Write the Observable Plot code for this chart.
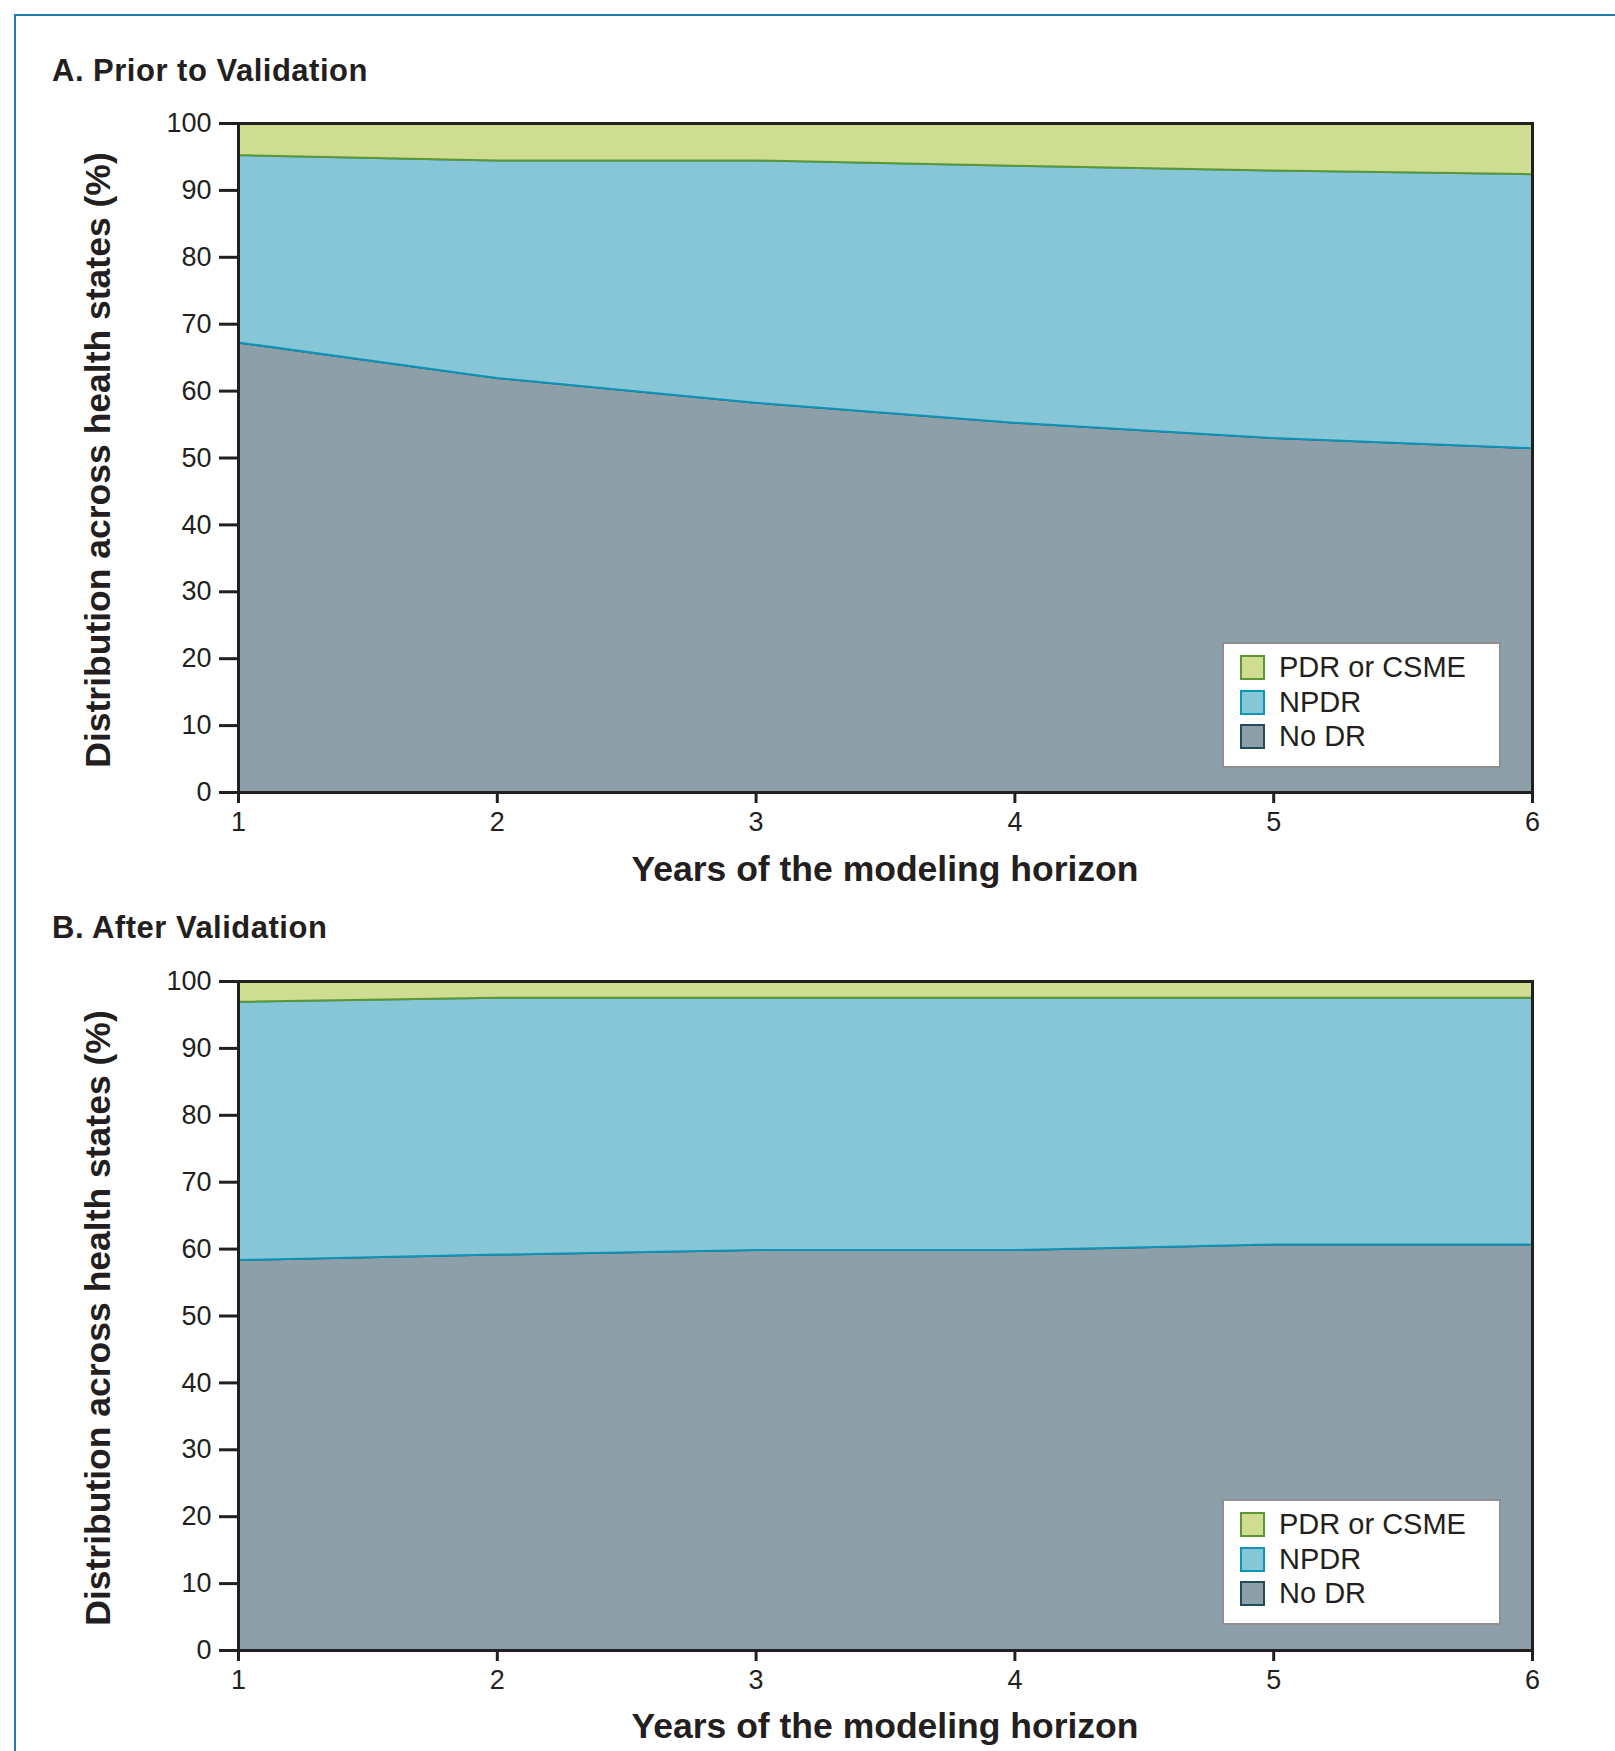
<!DOCTYPE html>
<html>
<head>
<meta charset="utf-8">
<script src="https://cdn.jsdelivr.net/npm/d3@7"></script>
<script src="https://cdn.jsdelivr.net/npm/@observablehq/plot@0.6"></script>
<style>
  html, body { margin: 0; padding: 0; background: #fff; }
  body { width: 1615px; height: 1751px; position: relative; overflow: hidden;
         font-family: "Liberation Sans", Arial, Helvetica, sans-serif; color: #231f20; }
  .abs { position: absolute; }
  .frameBlue { left: 14px; top: 14px; width: 1700px; height: 1800px;
               border-left: 2.5px solid #1f7db4; border-top: 2.5px solid #1f7db4; }
  .ptitle { font-weight: bold; font-size: 31px; letter-spacing: 0.5px; line-height: 1; white-space: nowrap; }
  .xtitle { font-weight: bold; font-size: 35.5px; line-height: 1; white-space: nowrap; transform: translateX(-50%); }
  .ytitle { font-weight: bold; font-size: 35.5px; line-height: 1; white-space: nowrap;
            transform: translate(-50%, -50%) rotate(-90deg); }
  .legend { background: #fff; border: 2.5px solid #8f8f8f; box-sizing: border-box; width: 279px; height: 126px; }
  .legend .row { position: absolute; left: 16px; height: 30px; display: flex; align-items: center; }
  .legend .sw { width: 21px; height: 21px; border: 2.5px solid; margin-right: 14px; }
  .legend .lab { font-size: 29px; line-height: 1; white-space: nowrap; }
  svg { position: absolute; left: 0; overflow: visible; }
</style>
</head>
<body>
<div class="abs frameBlue"></div>
<script>
// ---- data ----
const years = [1, 2, 3, 4, 5, 6];
const states = ["No DR", "NPDR", "PDR or CSME"];
const fills = ["#8d9fa8", "#86c6d7", "#cfdd93"];
const strokes = ["#1f4b5b", "#0e94b6", "#5e9732"];
const yTicks = [0, 10, 20, 30, 40, 50, 60, 70, 80, 90, 100];
const xTicks = [1, 2, 3, 4, 5, 6];

// Panel A: Prior to Validation (% of cohort per state)
const noDR_A = [67.2, 61.9, 58.2, 55.2, 52.9, 51.4];
const npdr_A = [28.0, 32.5, 36.2, 38.4, 40.0, 40.95];
const pdr_A  = [4.8, 5.6, 5.6, 6.4, 7.1, 7.65];

// Panel B: After Validation
const noDR_B = [58.3, 59.1, 59.8, 59.8, 60.6, 60.6];
const npdr_B = [38.6, 38.4, 37.7, 37.7, 36.9, 36.9];
const pdr_B  = [3.1, 2.5, 2.5, 2.5, 2.5, 2.5];

const panelTitles = ["A. Prior to Validation", "B. After Validation"];
const xTitle = "Years of the modeling horizon";
const yTitle = "Distribution across health states (%)";

// ---- build ----
const fillOf = Object.fromEntries(states.map((s, i) => [s, fills[i]]));
const strokeOf = Object.fromEntries(states.map((s, i) => [s, strokes[i]]));

function rowsFor(series) {
  const out = [];
  states.forEach((s, k) => years.forEach((yr, i) => out.push({year: yr, state: s, value: series[k][i]})));
  return out;
}

function makePanel(series, svgTop) {
  const rows = rowsFor(series);
  const chart = Plot.plot({
    width: 1615, height: 752,
    marginTop: 23, marginBottom: 60, marginLeft: 238, marginRight: 83,
    x: {domain: [1, 6], label: null},
    y: {domain: [0, 100], label: null},
    color: {type: "identity"},
    style: {fontFamily: "'Liberation Sans', Arial, sans-serif", fontSize: "27px", color: "#231f20", background: "transparent", overflow: "visible"},
    marks: [
      Plot.areaY(rows, {x: "year", y: "value", z: "state",
        fill: d => fillOf[d.state], stroke: d => strokeOf[d.state], strokeWidth: 2}),
      Plot.frame({stroke: "#231f20", strokeWidth: 3}),
      Plot.axisY({ticks: yTicks, tickSize: 19, tickPadding: 8, strokeWidth: 3, label: null, fontSize: 27}),
      Plot.axisX({ticks: xTicks, tickSize: 11, tickPadding: 8, strokeWidth: 3, label: null, fontSize: 27, tickFormat: d => String(d)})
    ]
  });
  chart.style.top = svgTop + "px";
  return chart;
}

function makeLegend(left, top) {
  const lg = document.createElement("div");
  lg.className = "abs legend";
  lg.style.left = left + "px";
  lg.style.top = top + "px";
  const order = [2, 1, 0];
  order.forEach((k, r) => {
    const row = document.createElement("div");
    row.className = "row";
    row.style.top = (8.5 + r * 34.5) + "px";
    const sw = document.createElement("div");
    sw.className = "sw";
    sw.style.background = fills[k];
    sw.style.borderColor = strokes[k];
    const lab = document.createElement("div");
    lab.className = "lab";
    lab.textContent = states[k];
    row.appendChild(sw); row.appendChild(lab);
    lg.appendChild(row);
  });
  return lg;
}

function addText(cls, txt, left, top) {
  const d = document.createElement("div");
  d.className = "abs " + cls;
  d.textContent = txt;
  d.style.left = left + "px";
  d.style.top = top + "px";
  document.body.appendChild(d);
}

const root = document.body;
// Panel A
addText("ptitle", panelTitles[0], 52, 55);
root.appendChild(makePanel([noDR_A, npdr_A, pdr_A], 100));
root.appendChild(makeLegend(1222, 642));
addText("ytitle", yTitle, 99, 460);
addText("xtitle", xTitle, 885, 852);
// Panel B
addText("ptitle", panelTitles[1], 52, 912);
root.appendChild(makePanel([noDR_B, npdr_B, pdr_B], 958));
root.appendChild(makeLegend(1222, 1499));
addText("ytitle", yTitle, 99, 1318);
addText("xtitle", xTitle, 885, 1709);
</script>
</body>
</html>
